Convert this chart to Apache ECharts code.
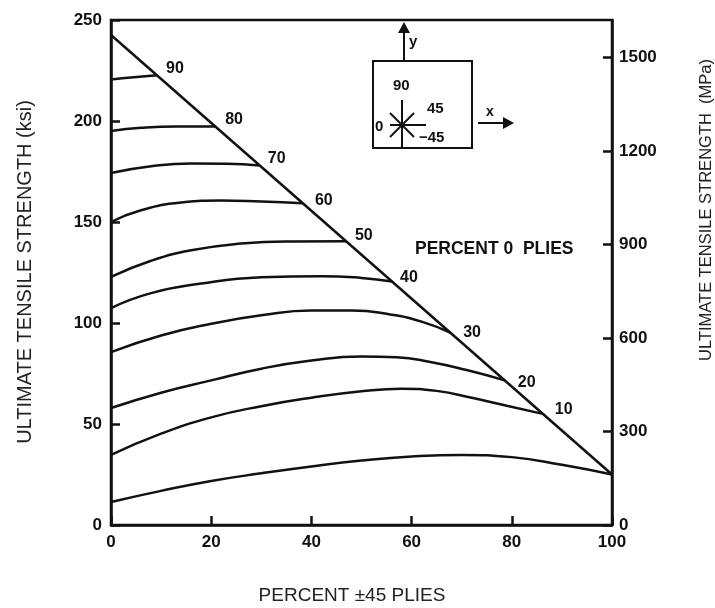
<!DOCTYPE html>
<html>
<head>
<meta charset="utf-8">
<script src="https://cdn.jsdelivr.net/npm/echarts@6/dist/echarts.min.js"></script>
<style>
html,body{margin:0;padding:0;background:#fff;}
#chart{width:715px;height:608px;}
</style>
</head>
<body>
<div id="chart"></div>
<script>
// ---- data ----
const xTickValues = [0, 20, 40, 60, 80, 100];
const ksiTickValues = [0, 50, 100, 150, 200, 250];
const mpaTickValues = [0, 300, 600, 900, 1200, 1500];

// upper bound line
const boundary = [[0, 242.6], [100, 25]];

// curves labelled by percent 0 plies
const curveNames = ['90', '80', '70', '60', '50', '40', '30', '20', '10', '0'];
const ply90 = [[0, 220.5], [4.5, 221.6], [9.2, 222.6]];
const ply80 = [[0, 195], [6, 196.6], [13, 197.3], [20.8, 197.3]];
const ply70 = [[0, 174.3], [8, 177.6], [16, 179], [23, 178.8], [29.7, 178]];
const ply60 = [[0, 150], [6, 155.8], [14, 159.6], [22, 160.6], [30, 160.1], [38.3, 159.3]];
const ply50 = [[0, 122.8], [8, 130.8], [16, 136], [26, 139.3], [36, 140.4], [46.9, 140.5]];
const ply40 = [[0, 107.4], [8, 114.8], [18, 119.5], [30, 122.6], [42, 123.2], [50, 122.3], [56.1, 120.5]];
const ply30 = [[0, 85.6], [10, 93.8], [20, 99.6], [30, 103.8], [40, 106.2], [48, 106.2], [56, 104.1], [62, 100.7], [67.7, 95.3]];
const ply20 = [[0, 57.9], [10, 65.5], [20, 71.6], [30, 77.4], [40, 81.4], [50, 83.4], [57, 83.1], [64, 80.6], [71, 76.7], [78.6, 71.6]];
const ply10 = [[0, 34.7], [10, 45.2], [20, 53.3], [30, 58.8], [40, 63], [50, 66.2], [58, 67.5], [65, 66.4], [72, 63], [79, 59], [86.2, 55]];
const ply0 = [[0, 11.4], [10, 16.9], [20, 21.8], [30, 25.6], [40, 29], [50, 31.9], [60, 33.9], [70, 34.7], [80, 33.6], [90, 29.8], [100, 25]];
const curves = [ply90, ply80, ply70, ply60, ply50, ply40, ply30, ply20, ply10, ply0];

// ---- styling (label placement relative to curve end) ----
const labelOffsets = [[9, -7], [10, -7], [8, -7], [12, -3], [9, -6], [8, -4], [13, 0], [13, 2], [12, -4], null];

const FONT = "'Liberation Sans', Arial, sans-serif";
const INK = '#111';

const series = [];
series.push({
  type: 'line', data: boundary, symbol: 'none', silent: true,
  lineStyle: {color: INK, width: 2.5}, z: 3
});
curves.forEach((pts, i) => {
  const s = {
    type: 'line', data: pts, symbol: 'none', smooth: 0.5, silent: true,
    lineStyle: {color: INK, width: 2.5}, z: 2
  };
  if (labelOffsets[i]) {
    s.endLabel = {
      show: true, formatter: curveNames[i], distance: 0, offset: labelOffsets[i],
      color: INK, fontFamily: FONT, fontSize: 16, fontWeight: 'bold'
    };
  }
  series.push(s);
});

const chart = echarts.init(document.getElementById('chart'), null, {renderer: 'canvas'});

const cx = 402, cy = 125;
const graphic = [
  // axis titles
  {type: 'text', x: 25, y: 272, rotation: Math.PI / 2,
   style: {text: 'ULTIMATE TENSILE STRENGTH (ksi)', font: '20px ' + FONT, fill: '#222', align: 'center', verticalAlign: 'middle'}},
  {type: 'text', x: 706, y: 210, rotation: Math.PI / 2,
   style: {text: 'ULTIMATE TENSILE STRENGTH  (MPa)', font: '16.5px ' + FONT, fill: '#222', align: 'center', verticalAlign: 'middle'}},
  {type: 'text', x: 352, y: 596,
   style: {text: 'PERCENT \u00b145 PLIES', font: '19px ' + FONT, fill: '#222', align: 'center', verticalAlign: 'middle'}},
  // inset box
  {type: 'rect', shape: {x: 373, y: 61, width: 99, height: 87}, style: {fill: 'none', stroke: INK, lineWidth: 2}},
  // y arrow
  {type: 'line', shape: {x1: 404, y1: 60, x2: 404, y2: 30}, style: {stroke: INK, lineWidth: 2}},
  {type: 'polygon', shape: {points: [[398, 33], [410, 33], [404, 22]]}, style: {fill: INK}},
  {type: 'text', style: {text: 'y', x: 409, y: 34, font: 'bold 15px ' + FONT, fill: INK}},
  // x arrow
  {type: 'line', shape: {x1: 478, y1: 123, x2: 505, y2: 123}, style: {stroke: INK, lineWidth: 2}},
  {type: 'polygon', shape: {points: [[503, 117], [503, 129], [514, 123]]}, style: {fill: INK}},
  {type: 'text', style: {text: 'x', x: 486, y: 105, font: 'bold 14px ' + FONT, fill: INK}},
  // star
  {type: 'line', shape: {x1: cx, y1: 100, x2: cx, y2: 148}, style: {stroke: INK, lineWidth: 2}},
  {type: 'line', shape: {x1: cx - 12, y1: cy, x2: cx + 24, y2: cy}, style: {stroke: INK, lineWidth: 2}},
  {type: 'line', shape: {x1: cx - 12, y1: cy + 12, x2: cx + 12, y2: cy - 12}, style: {stroke: INK, lineWidth: 2}},
  {type: 'line', shape: {x1: cx - 12, y1: cy - 12, x2: cx + 12, y2: cy + 12}, style: {stroke: INK, lineWidth: 2}},
  {type: 'text', style: {text: '90', x: 393, y: 78, font: 'bold 15px ' + FONT, fill: INK}},
  {type: 'text', style: {text: '45', x: 427, y: 101, font: 'bold 15px ' + FONT, fill: INK}},
  {type: 'text', style: {text: '0', x: 375, y: 119, font: 'bold 15px ' + FONT, fill: INK}},
  {type: 'text', style: {text: '\u221245', x: 419, y: 130, font: 'bold 15px ' + FONT, fill: INK}},
  // annotation
  {type: 'text', style: {text: 'PERCENT 0  PLIES', x: 415, y: 249, font: 'bold 17.5px ' + FONT, fill: INK, verticalAlign: 'middle'}}
];

chart.setOption({
  animation: false,
  backgroundColor: '#fff',
  grid: {left: 111, right: 103, top: 20, bottom: 83, show: true, borderColor: INK, borderWidth: 2.5, backgroundColor: 'transparent'},
  xAxis: {
    type: 'value', min: 0, max: 100, interval: 20,
    axisLine: {show: true, lineStyle: {color: INK, width: 2.5}},
    axisTick: {show: true, inside: true, length: 9, lineStyle: {color: INK, width: 2.5}},
    axisLabel: {color: INK, fontFamily: FONT, fontSize: 17, fontWeight: 'bold', margin: 9},
    splitLine: {show: false}
  },
  yAxis: [{
    type: 'value', min: 0, max: 250, interval: 50,
    axisLine: {show: true, lineStyle: {color: INK, width: 2.5}},
    axisTick: {show: true, inside: true, length: 9, lineStyle: {color: INK, width: 2.5}},
    axisLabel: {color: INK, fontFamily: FONT, fontSize: 17, fontWeight: 'bold', margin: 9},
    splitLine: {show: false}
  }, {
    type: 'value', min: 0, max: 1620, interval: 300, position: 'right',
    axisLine: {show: true, lineStyle: {color: INK, width: 2.5}},
    axisTick: {show: true, inside: true, length: 9, lineStyle: {color: INK, width: 2.5}},
    axisLabel: {color: INK, fontFamily: FONT, fontSize: 17, fontWeight: 'bold', margin: 7, showMaxLabel: false,
      formatter: v => (mpaTickValues.indexOf(v) >= 0 ? String(v) : '')},
    splitLine: {show: false}
  }],
  series: series,
  graphic: graphic
});
</script>
</body>
</html>
